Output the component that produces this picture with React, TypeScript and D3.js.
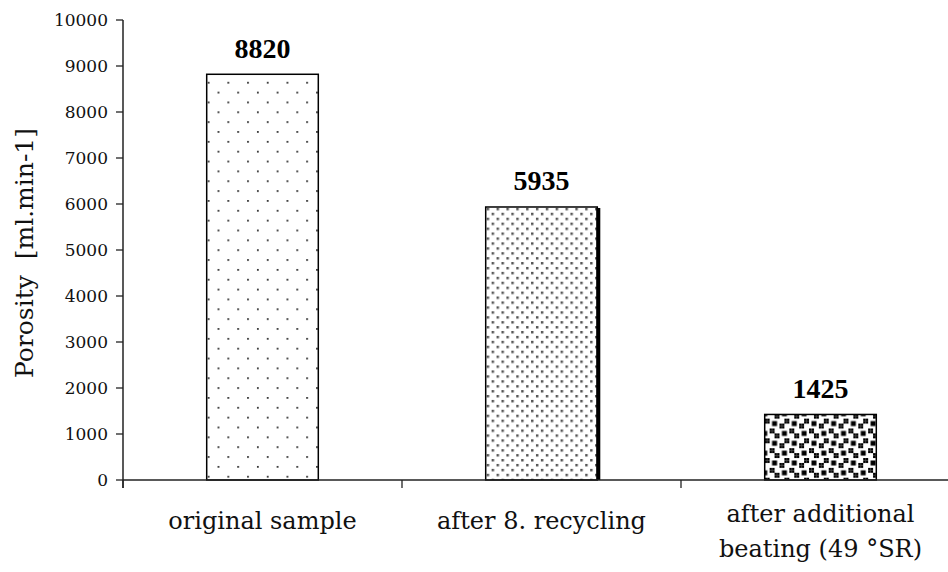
import React from 'react';
import * as d3 from 'd3';

const categories: string[][] = [
  ['original sample'],
  ['after 8. recycling'],
  ['after additional', 'beating (49 °SR)'],
];
const values = [8820, 5935, 1425];
const yTicks = [0, 1000, 2000, 3000, 4000, 5000, 6000, 7000, 8000, 9000, 10000];
const yLabel = 'Porosity  [ml.min-1]';

// Large confetti 8x8 bitmap rows
const confetti = [0x8d, 0x0c, 0xc0, 0xd8, 0x1b, 0x03, 0x30, 0xb1];

const W = 948;
const H = 572;
const left = 123;
const top = 20;
const bottom = 480;

export default function App() {
  const y = d3.scaleLinear().domain([0, 10000]).range([bottom, top]);
  const x = d3
    .scaleBand<number>()
    .domain(categories.map((_, i) => i))
    .range([left, left + 279 * 3])
    .padding(0);
  const barW = x.bandwidth() * 0.4;
  const cell = 19.7 / 8;
  const serif = 'DejaVu Serif';
  const boldSerif = 'Liberation Serif';

  const confettiRects: { cx: number; cy: number }[] = [];
  confetti.forEach((row, r) => {
    for (let c = 0; c < 8; c++) {
      if (row & (0x80 >> c)) confettiRects.push({ cx: c, cy: r });
    }
  });

  const patternIds = ['pat0', 'pat1', 'pat2'];

  return (
    <div style={{ position: 'absolute', left: 0, top: 0 }}>
      <svg width={W} height={H} style={{ display: 'block', background: '#fff' }}>
        <defs>
          <pattern id="pat0" patternUnits="userSpaceOnUse" width={cell * 8} height={cell * 8} x={x(0)! + (x.bandwidth() - barW) / 2 + 1} y={3}>
            <rect width={cell * 8} height={cell * 8} fill="#fff" />
            <rect x={0} y={0} width={1.8} height={1.8} fill="#333" />
            <rect x={cell * 4} y={cell * 4} width={1.8} height={1.8} fill="#333" />
          </pattern>
          <pattern id="pat1" patternUnits="userSpaceOnUse" width={cell * 4} height={cell * 4} x={x(1)! + (x.bandwidth() - barW) / 2 + 1} y={1}>
            <rect width={cell * 4} height={cell * 4} fill="#fff" />
            <rect x={0} y={0} width={cell} height={cell} fill="#555" />
            <rect x={cell * 2} y={cell * 2} width={cell} height={cell} fill="#555" />
          </pattern>
          <pattern id="pat2" patternUnits="userSpaceOnUse" width={cell * 8} height={cell * 8} x={x(2)! + (x.bandwidth() - barW) / 2} y={0}>
            <rect width={cell * 8} height={cell * 8} fill="#fff" />
            {confettiRects.map((p, i) => (
              <rect key={i} x={p.cx * cell} y={p.cy * cell} width={cell + 0.05} height={cell + 0.05} fill="#000" />
            ))}
          </pattern>
        </defs>

        {/* bars */}
        {values.map((v, i) => {
          const bx = x(i)! + (x.bandwidth() - barW) / 2;
          const by = y(v);
          return (
            <g key={i}>
              <rect x={bx} y={by} width={barW} height={bottom - by} fill={`url(#${patternIds[i]})`} stroke="#000" strokeWidth={1.5} />
              {i === 1 && (
                <rect x={bx + barW - 1} y={by + 1} width={4} height={bottom - by - 1} fill="#000" />
              )}
              <text x={bx + barW / 2} y={by - 16.5} textAnchor="middle" fontFamily={boldSerif} fontWeight="bold" fontSize={28} fill="#000">
                {v}
              </text>
            </g>
          );
        })}

        {/* y axis */}
        <line x1={left} x2={left} y1={top} y2={bottom + 8} stroke="#222" strokeWidth={1.5} />
        {yTicks.map((t) => (
          <g key={t}>
            <line x1={left - 7} x2={left} y1={y(t)} y2={y(t)} stroke="#222" strokeWidth={1.3} />
            <text x={108} y={y(t)} dy="0.36em" textAnchor="end" fontFamily={serif} fontSize={17} fill="#111">
              {t}
            </text>
          </g>
        ))}

        {/* x axis */}
        <line x1={left} x2={W} y1={bottom} y2={bottom} stroke="#222" strokeWidth={1.5} />
        {categories.map((_, i) => (
          <line key={i} x1={x(i)!} x2={x(i)!} y1={bottom} y2={bottom + 8} stroke="#222" strokeWidth={1.3} />
        ))}
        {categories.map((lines, i) => {
          const cx = x(i)! + x.bandwidth() / 2;
          const y0 = lines.length === 1 ? 529 : 522;
          return (
            <text key={i} textAnchor="middle" fontFamily={serif} fontSize={24} fill="#111">
              {lines.map((l, j) => (
                <tspan key={j} x={cx} y={y0 + j * 35}>
                  {l}
                </tspan>
              ))}
            </text>
          );
        })}

        {/* y label */}
        <text
          transform={`translate(33, 253) rotate(-90)`}
          textAnchor="middle"
          fontFamily={serif}
          fontSize={25}
          fill="#111"
          style={{ whiteSpace: 'pre' }}
        >
          {yLabel}
        </text>
      </svg>
    </div>
  );
}
